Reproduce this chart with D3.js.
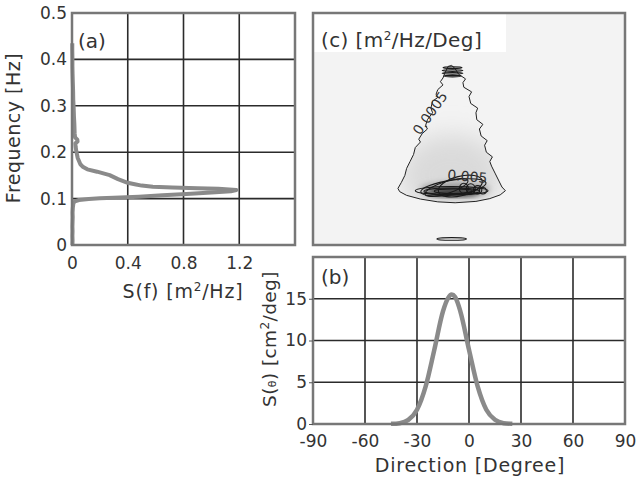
<!DOCTYPE html>
<html><head><meta charset="utf-8">
<script src="https://cdn.jsdelivr.net/npm/d3@7/dist/d3.min.js"></script>
<style>body{margin:0;background:#fff}svg{display:block}text{font-family:"DejaVu Sans",sans-serif;fill:#333}</style>
</head><body>
<script>
// ---------- DATA ----------
// (a) frequency spectrum: frequency [Hz] and S(f) [m^2/Hz]
const freqA = [0,0.01,0.02,0.03,0.04,0.05,0.06,0.07,0.08,0.09,0.094,0.097,0.099,0.1005,0.102,0.104,0.107,0.110,0.113,0.116,0.1185,0.121,0.1225,0.124,0.1255,0.128,0.131,0.134,0.142,0.1505,0.158,0.163,0.168,0.174,0.1875,0.202,0.212,0.219,0.223,0.227,0.232,0.241,0.26,0.277,0.295,0.313,0.33,0.35,0.37,0.385,0.40,0.42,0.435];
const specA = [0.003,0.004,0.003,0.004,0.003,0.004,0.005,0.004,0.006,0.01,0.02,0.05,0.12,0.20,0.30,0.48,0.65,0.82,1.0,1.14,1.18,1.05,0.90,0.72,0.58,0.50,0.45,0.40,0.33,0.27,0.18,0.11,0.08,0.06,0.041,0.031,0.026,0.024,0.04,0.038,0.022,0.019,0.017,0.014,0.012,0.009,0.008,0.006,0.004,0.003,0.003,0.002,0.002];
const aXTicks = [0,0.4,0.8,1.2];
const aXGrid = [0.4,0.8,1.2];
const fTicks = [0,0.1,0.2,0.3,0.4,0.5];
const fGrid = [0.1,0.2,0.3,0.4];

// (b) directional spectrum: direction [deg] and S(theta) [cm^2/deg]
const dirB = [-45,-40,-35,-30,-25,-20,-15,-12,-10,-8,-5,0,5,10,15,20,25];
const specB = [0.02,0.1,0.49,1.7,4.5,8.9,13.5,15.1,15.5,15.2,13.5,8.9,4.5,1.7,0.5,0.1,0.02];
const dirTicks = [-90,-60,-30,0,30,60,90];
const dirGrid = [-60,-30,0,30,60];
const bYTicks = [0,5,10,15];
const bYGrid = [5,10,15];

// (c) directional-frequency spectrum contours: [direction, frequency]
const outerContour = [[-12,0.385],[-14,0.37],[-15,0.36],[-16.5,0.352],[-15,0.345],[-18,0.335],[-19,0.325],[-18,0.318],[-21,0.31],[-22,0.295],[-21,0.285],[-24,0.27],[-25,0.258],[-24,0.25],[-27,0.24],[-29,0.228],[-28,0.222],[-31,0.21],[-32,0.195],[-34,0.18],[-36,0.165],[-37,0.15],[-39,0.135],[-41,0.122],[-40,0.115],[-36,0.107],[-28,0.099],[-18,0.093],[-8,0.091],[4,0.094],[12,0.1],[18,0.108],[21,0.117],[19,0.125],[17,0.14],[15,0.155],[13,0.17],[12,0.18],[13.5,0.19],[10,0.2],[9,0.215],[10.5,0.225],[7,0.235],[6,0.25],[8,0.26],[4.5,0.27],[4,0.285],[5,0.295],[1,0.305],[0,0.32],[1.5,0.33],[-3,0.34],[-3.5,0.35],[-2,0.358],[-6,0.368],[-8,0.38],[-10,0.387]];
// small closed contours: [centre direction, centre frequency, half-width deg, half-height Hz, rotation deg]
const ringContours = [
  [-9.5,0.382,5.5,0.0018,0],[-9.5,0.376,6,0.0018,0],[-9.5,0.370,6,0.0018,0],[-9.5,0.364,5,0.0016,0],
  [-9,0.124,19,0.016,-8],[-5,0.127,13,0.021,-14],[-13,0.124,13,0.013,-18],[-10,0.117,21,0.009,0],
  [-10,0.116,16,0.007,0],[-9,0.116,11,0.005,0],[-3,0.122,2.6,0.011,0],[1,0.121,2.6,0.011,0],
  [5,0.119,2.4,0.009,0],[8,0.117,2,0.007,0],
  [-10,0.013,8.5,0.0028,0]
];
const contourLabels = [["0.0005",-22,0.283,-55],["0.005",-1,0.146,5]];

// ---------- DRAW ----------
const W = 637, H = 480;
const svg = d3.select("body").append("svg").attr("width",W).attr("height",H);
const defs = svg.append("defs");
defs.append("filter").attr("id","blur").attr("x","-50%").attr("y","-50%").attr("width","200%").attr("height","200%")
  .append("feGaussianBlur").attr("stdDeviation",3);
defs.append("filter").attr("id","blur2").attr("x","-50%").attr("y","-50%").attr("width","200%").attr("height","200%")
  .append("feGaussianBlur").attr("stdDeviation",12);

const xA = d3.scaleLinear().domain([0,1.6]).range([72,295]);
const yF = d3.scaleLinear().domain([0,0.5]).range([245,13]);
const xD = d3.scaleLinear().domain([-90,90]).range([313,625]);
const yB = d3.scaleLinear().domain([0,20]).range([424,257]);

const gridCol = "#2b2b2b", frameCol = "#777";
const fmt = d => String(d);

function frame(x0,x1,y0,y1){
  svg.append("rect").attr("x",x0).attr("y",y1).attr("width",x1-x0).attr("height",y0-y1)
    .attr("fill","none").attr("stroke",frameCol).attr("stroke-width",2.5);
}
function label(x,y,size,opts={}){
  const t = svg.append("text").attr("x",x).attr("y",y).attr("font-size",size)
    .attr("text-anchor",opts.anchor||"middle");
  if(opts.ls) t.attr("letter-spacing",opts.ls);
  if(opts.rotate) t.attr("transform",`rotate(${opts.rotate},${x},${y})`);
  return t;
}
function sup(t,txt,size){
  t.append("tspan").attr("font-size",size).attr("baseline-shift","55%").text(txt);
}
function styleAxis(g){
  g.select(".domain").remove();
  g.selectAll("line").attr("stroke","#555");
  g.selectAll("text").attr("font-size",17).attr("fill","#333").attr("font-family","DejaVu Sans");
}

// ===== Panel (a) =====
const ga = svg.append("g");
ga.selectAll("line.vg").data(aXGrid).join("line")
  .attr("x1",d=>xA(d)).attr("x2",d=>xA(d)).attr("y1",yF(0)).attr("y2",yF(0.5))
  .attr("stroke",gridCol).attr("stroke-width",1.6);
ga.selectAll("line.hg").data(fGrid).join("line")
  .attr("x1",xA(0)).attr("x2",xA(1.6)).attr("y1",d=>yF(d)).attr("y2",d=>yF(d))
  .attr("stroke",gridCol).attr("stroke-width",1.6);
ga.append("path").datum(freqA.map((f,i)=>[specA[i],f]))
  .attr("d",d3.line().x(d=>xA(d[0])).y(d=>yF(d[1])))
  .attr("fill","none").attr("stroke","#8a8a8a").attr("stroke-width",4).attr("stroke-linejoin","round");
frame(72,295,245,13);
styleAxis(svg.append("g").attr("transform","translate(72,0)")
  .call(d3.axisLeft(yF).tickValues(fTicks).tickSize(0).tickPadding(5).tickFormat(fmt)));
styleAxis(svg.append("g").attr("transform","translate(0,245)")
  .call(d3.axisBottom(xA).tickValues(aXTicks).tickSize(0).tickPadding(12).tickFormat(fmt)));
label(78,48,20,{anchor:"start"}).text("(a)");
label(20,128,19,{rotate:-90,ls:0.5}).text("Frequency [Hz]");
const tA = label(183,298,19,{ls:0.8});
tA.append("tspan").text("S(f) [m");
sup(tA,"2",12);
tA.append("tspan").text("/Hz]");

// ===== Panel (c) =====
svg.append("rect").attr("x",313).attr("y",13).attr("width",312).attr("height",232).attr("fill","#f3f3f3");
defs.append("clipPath").attr("id","treeClip").append("path").datum(outerContour)
  .attr("d",d3.line().x(d=>xD(d[0])).y(d=>yF(d[1])).curve(d3.curveLinearClosed));
defs.append("clipPath").attr("id","cClip").append("rect").attr("x",313).attr("y",13).attr("width",312).attr("height",232);
const gc = svg.append("g").attr("clip-path","url(#cClip)");
const shade = gc.append("g").attr("clip-path","url(#treeClip)");
shade.append("ellipse").attr("cx",xD(-10)).attr("cy",yF(0.15)).attr("rx",xD(20)-xD(-10)).attr("ry",yF(0)-yF(0.09))
  .attr("fill","#dadada").attr("filter","url(#blur2)");
gc.append("ellipse").attr("cx",xD(-8)).attr("cy",yF(0.12)).attr("rx",xD(12)-xD(-8)).attr("ry",yF(0)-yF(0.015))
  .attr("fill","#9a9a9a").attr("filter","url(#blur)");
gc.append("ellipse").attr("cx",xD(-9)).attr("cy",yF(0.114)).attr("rx",xD(6)-xD(-9)).attr("ry",yF(0)-yF(0.0065))
  .attr("fill","#111").attr("filter","url(#blur)");
gc.append("path").datum(outerContour)
  .attr("d",d3.line().x(d=>xD(d[0])).y(d=>yF(d[1])).curve(d3.curveLinearClosed))
  .attr("fill","none").attr("stroke","#222").attr("stroke-width",1);
gc.selectAll("ellipse.ring").data(ringContours).join("ellipse").attr("class","ring")
  .attr("cx",d=>xD(d[0])).attr("cy",d=>yF(d[1]))
  .attr("rx",d=>xD(d[0]+d[2])-xD(d[0])).attr("ry",d=>yF(0)-yF(d[3]))
  .attr("transform",d=>`rotate(${d[4]},${xD(d[0])},${yF(d[1])})`)
  .attr("fill","none").attr("stroke","#1a1a1a").attr("stroke-width",1.1);
gc.selectAll("text.cl").data(contourLabels).join("text").attr("class","cl")
  .attr("x",d=>xD(d[1])).attr("y",d=>yF(d[2])).attr("text-anchor","middle").attr("dominant-baseline","middle")
  .attr("font-size",14).attr("fill","#222")
  .attr("transform",d=>`rotate(${d[3]},${xD(d[1])},${yF(d[2])})`).text(d=>d[0]);
svg.append("rect").attr("x",314).attr("y",14).attr("width",192).attr("height",38).attr("fill","#fff");
frame(313,625,245,13);
const tC = label(321,47,20,{anchor:"start",ls:0.4});
tC.append("tspan").text("(c) [m");
sup(tC,"2",12);
tC.append("tspan").text("/Hz/Deg]");

// ===== Panel (b) =====
const gb = svg.append("g");
gb.selectAll("line.vg").data(dirGrid).join("line")
  .attr("x1",d=>xD(d)).attr("x2",d=>xD(d)).attr("y1",yB(0)).attr("y2",yB(20))
  .attr("stroke",gridCol).attr("stroke-width",1.6);
gb.selectAll("line.hg").data(bYGrid).join("line")
  .attr("x1",xD(-90)).attr("x2",xD(90)).attr("y1",d=>yB(d)).attr("y2",d=>yB(d))
  .attr("stroke",gridCol).attr("stroke-width",1.6);
gb.append("path").datum(dirB.map((d,i)=>[d,specB[i]]))
  .attr("d",d3.line().x(d=>xD(d[0])).y(d=>yB(d[1])).curve(d3.curveMonotoneX))
  .attr("fill","none").attr("stroke","#8a8a8a").attr("stroke-width",4.5).attr("stroke-linejoin","round");
frame(313,625,424,257);
styleAxis(svg.append("g").attr("transform","translate(313,0)")
  .call(d3.axisLeft(yB).tickValues(bYTicks).tickSize(4).tickPadding(2).tickFormat(fmt)));
styleAxis(svg.append("g").attr("transform","translate(0,424)")
  .call(d3.axisBottom(xD).tickValues(dirTicks).tickSize(0).tickPadding(11).tickFormat(fmt)));
label(321,284,20,{anchor:"start"}).text("(b)");
label(470,472,19,{ls:0.8}).text("Direction [Degree]");
const tB = label(276,339,18.5,{rotate:-90,ls:0.4});
tB.append("tspan").text("S(");
tB.append("tspan").attr("font-size",11).text("θ");
tB.append("tspan").text(") [cm");
sup(tB,"2",12);
tB.append("tspan").text("/deg]");
</script>
</body></html>
